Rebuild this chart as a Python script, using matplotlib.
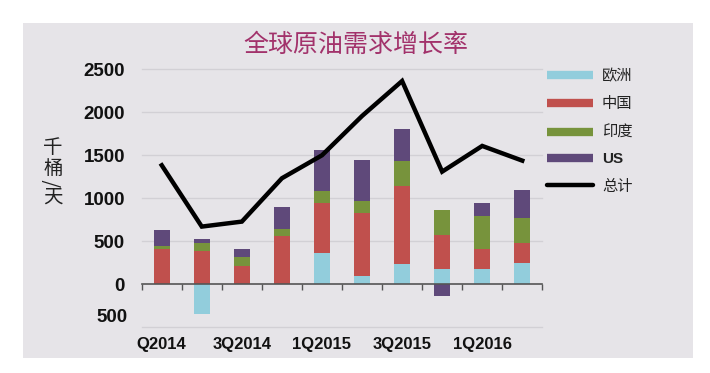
import numpy as np
import matplotlib.pyplot as plt
from matplotlib.lines import Line2D
from matplotlib.patches import Rectangle

plt.rcParams['font.family'] = ['Liberation Sans', 'Noto Sans CJK SC', 'DejaVu Sans']

# ---------------- data ----------------
quarters = ['1Q2014', '2Q2014', '3Q2014', '4Q2014', '1Q2015',
            '2Q2015', '3Q2015', '4Q2015', '1Q2016', '2Q2016']
europe = [0, -340, 0, 0, 368, 93, 233, 182, 182, 248]
china = [415, 384, 213, 566, 574, 740, 910, 396, 225, 229]
india = [35, 97, 101, 81, 147, 132, 295, 290, 391, 294]
us = [186, 50, 101, 252, 469, 477, 364, -140, 152, 322]
total = [1384, 671, 729, 1233, 1500, 1957, 2364, 1310, 1609, 1438]

series_names = ['欧洲', '中国', '印度', 'US']
total_name = '总计'
series_colors = ['#92CDDC', '#C0504D', '#77933C', '#5F497A']

x_tick_pos = [0, 2, 4, 6, 8]
x_tick_labels = ['Q2014', '3Q2014', '1Q2015', '3Q2015', '1Q2016']
y_ticks = [0, 500, 1000, 1500, 2000, 2500]
y_tick_labels = ['0', '500', '1000', '1500', '2000', '2500']
y_neg_tick = -500
y_neg_label = '500'
title = '全球原油需求增长率'
ylabel_chars = ['千', '桶', '/', '天']

# ---------------- figure ----------------
fig = plt.figure(figsize=(7.1, 3.73), dpi=100)
fig.patch.set_facecolor('white')
bg = Rectangle((23 / 710, 1 - 358 / 373), (693 - 23) / 710, (358 - 23) / 373,
               transform=fig.transFigure, facecolor='#E6E4E8', edgecolor='none', zorder=-10)
fig.patches.append(bg)

ax = fig.add_axes([141.7 / 710, 1 - 327.3 / 373, (542.3 - 141.7) / 710, (327.3 - 69.3) / 373])
ax.set_facecolor('none')
ax.set_zorder(2)

x = np.arange(len(quarters))
pos_base = np.zeros(len(quarters))
neg_base = np.zeros(len(quarters))
for vals, name, col in zip([europe, china, india, us], series_names, series_colors):
    v = np.array(vals, dtype=float)
    bottoms = np.where(v >= 0, pos_base, neg_base)
    ax.bar(x, v, width=0.4, bottom=bottoms, color=col, zorder=3, label=name)
    pos_base = pos_base + np.where(v >= 0, v, 0)
    neg_base = neg_base + np.where(v < 0, v, 0)

ax.plot(x, total, color='black', lw=3.2, zorder=4, solid_joinstyle='miter', label=total_name)

ax.set_xlim(-0.5, 9.5)
ax.set_ylim(-500, 2500)

# grid lines
for gy in [-500, 500, 1000, 1500, 2000, 2500]:
    ax.axhline(gy, color='#D2D0D5', lw=1.0, zorder=1, clip_on=False)

for s in ax.spines.values():
    s.set_visible(False)
ax.spines['bottom'].set_visible(True)
ax.spines['bottom'].set_position(('data', 0))
ax.spines['bottom'].set_color('#555555')
ax.spines['bottom'].set_linewidth(1.2)
ax.spines['bottom'].set_zorder(5)

ax.set_xticks(np.arange(-0.5, 10, 1.0))
ax.set_xticklabels([])
ax.tick_params(axis='x', which='major', direction='out', length=4, width=1, color='#555555')
ax.set_xticks(x_tick_pos, minor=True)
ax.set_xticklabels(x_tick_labels, minor=True, fontsize=12, fontweight='bold', color='#111111')
ax.tick_params(axis='x', which='minor', length=0, pad=38)

ax.set_yticks(y_ticks)
ax.set_yticklabels(y_tick_labels, fontsize=13.5, fontweight='bold', color='#111111')
ax.tick_params(axis='y', length=0, pad=12)
ax.annotate(y_neg_label, xy=(0, y_neg_tick), xycoords=('axes fraction', 'data'),
            xytext=(-10, 7), textcoords='offset points', ha='right', va='center',
            fontsize=13.5, fontweight='bold', color='#111111', annotation_clip=False)

# title
fig.text(356 / 710, 1 - 45 / 373, title, ha='center', va='center', fontsize=18,
         color='#A2326B', family=['Noto Sans CJK SC', 'DejaVu Sans'])

# vertical y label
ys = [147, 168, 183, 197]
for ch, yy in zip(ylabel_chars, ys):
    rot = 90 if ch == '/' else 0
    fig.text(53 / 710, 1 - yy / 373, ch, ha='center', va='center', fontsize=14,
             rotation=rot, color='#222222', family=['Noto Sans CJK SC', 'DejaVu Sans'])

# legend
handles = [Line2D([0], [0], color=c, lw=6, solid_capstyle='butt') for c in series_colors]
handles.append(Line2D([0], [0], color='black', lw=3.2, solid_capstyle='round'))
labels = series_names + [total_name]
leg = fig.legend(handles, labels, loc='upper left', bbox_to_anchor=(547 / 710, 1 - 67 / 373),
                 frameon=False, handlelength=3.0, handletextpad=0.6,
                 labelspacing=0.75, borderpad=0, borderaxespad=0,
                 prop={'family': ['Noto Sans CJK SC', 'DejaVu Sans'], 'size': 11})
for t in leg.get_texts():
    t.set_color('#222222')
leg.get_texts()[3].set_fontweight('bold')
leg.get_texts()[3].set_family(['Liberation Sans', 'DejaVu Sans'])

fig.savefig('out.png', dpi=100)
